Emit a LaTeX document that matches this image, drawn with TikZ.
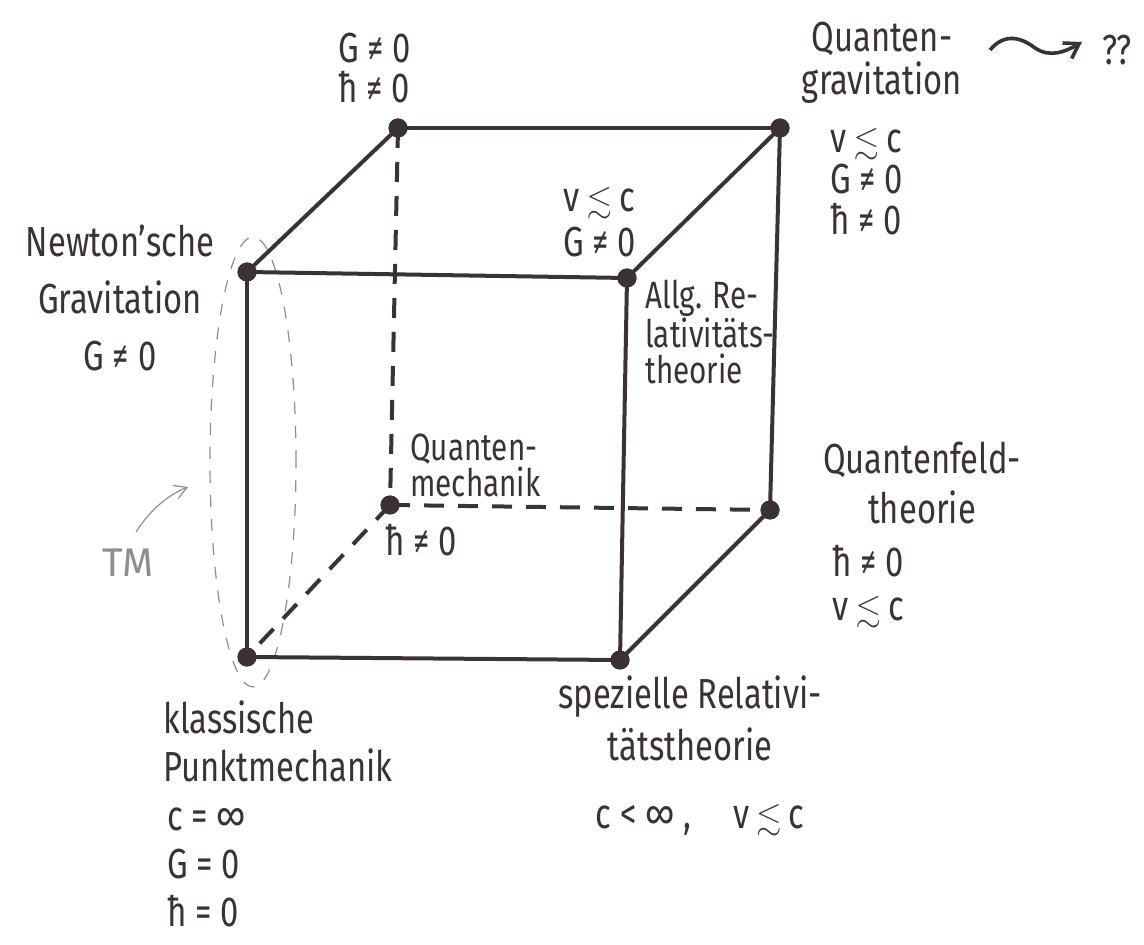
\documentclass[tikz,border=0pt]{standalone}
\usepackage{fontspec}
\usepackage{amssymb}
\setmainfont{Fira Sans}[FakeStretch=0.78]
\usetikzlibrary{arrows.meta,shapes.geometric}
\definecolor{ink}{HTML}{3A3236}
\definecolor{pencil}{HTML}{8E8E8E}
\newcommand{\lsim}{\scalebox{0.78}{$\lesssim$}}
\begin{document}
\begin{tikzpicture}[x=0.5pt,y=-0.5pt,
  edge/.style={draw=ink,line width=2pt},
  hidden/.style={draw=ink,line width=2pt,dash pattern=on 10pt off 7pt},
  vertex/.style={circle,fill=ink,inner sep=0pt,minimum size=9.5pt},
  lab/.style={text=ink,font=\fontsize{21}{24}\selectfont,inner sep=0pt},
  pencilline/.style={draw=pencil,line width=0.6pt},
]
\useasboundingbox (0,0) rectangle (1144,945);
\fill[white] (0,0) rectangle (1144,945);

% TM marking (pencil)
\node[draw=pencil,line width=0.6pt,dash pattern=on 6pt off 6pt,ellipse,minimum width=43pt,minimum height=225pt,inner sep=0pt] (tmring) at (253,462) {};
\node[text=pencil,font=\fontsize{20}{24}\selectfont\addfontfeature{FakeStretch=1.0},inner sep=0pt] (tm) at (128,563) {TM};
\coordinate (tmtip) at (188,487);
\draw[pencilline,-{Straight Barb[length=6pt,width=7pt]}] (136,532) .. controls (150,510) and (168,495) .. (tmtip);

% cube vertices
\node[vertex] (A) at (247,657) {};
\node[vertex] (B) at (620,660) {};
\node[vertex] (C) at (247,272) {};
\node[vertex] (D) at (627,278) {};
\node[vertex] (E) at (390,505) {};
\node[vertex] (F) at (770,510) {};
\node[vertex] (G) at (398,128) {};
\node[vertex] (H) at (780,128) {};

% edges
\draw[edge] (A.center) -- (B.center);
\draw[edge] (A.center) -- (C.center);
\draw[edge] (C.center) -- (D.center);
\draw[edge] (B.center) -- (D.center);
\draw[edge] (C.center) -- (G.center);
\draw[edge] (G.center) -- (H.center);
\draw[edge] (D.center) -- (H.center);
\draw[edge] (H.center) -- (F.center);
\draw[edge] (F.center) -- (B.center);
\draw[hidden] (G.center) -- (E.center);
\draw[hidden] (E.center) -- (F.center);
\draw[hidden] (E.center) -- (A.center);

% redraw dots on top
\foreach \v in {A,B,C,D,E,F,G,H} \fill[ink] (\v) circle (4.75pt);

% labels
\node[lab,align=left,anchor=west,font=\fontsize{21}{20}\selectfont] (lG) at (338,68) {G ≠ 0\\ħ ≠ 0};

\node[lab,align=center,font=\fontsize{21}{21.5}\selectfont] (lHname) at (882,63) {Quanten-\\gravitation};
\node[lab,align=left,anchor=west,font=\fontsize{21}{20.5}\selectfont] (lHcond) at (830,182) {v\,\lsim\,c\\G ≠ 0\\ħ ≠ 0};
\coordinate (wstart) at (990,50);
\coordinate (wend) at (1082,42);
\draw[ink,line width=1.8pt,-{Straight Barb[length=7pt,width=9pt]}] (wstart) .. controls (1005,32) and (1022,38) .. (1035,48) .. controls (1050,58) and (1065,52) .. (wend);
\node[lab] (qq) at (1117,50) {??};

\node[lab,align=left,anchor=west,font=\fontsize{21}{22.5}\selectfont] (lDcond) at (563,222) {v\,\lsim\,c\\G ≠ 0};
\node[lab,align=left,anchor=west,font=\fontsize{19}{18}\selectfont] (lDname) at (645,332) {Allg. Re-\\lativitäts-\\theorie};

\node[lab,align=center,font=\fontsize{21}{28.5}\selectfont] (lC) at (120,298) {Newton'sche\\Gravitation\\G ≠ 0};

\node[lab,align=left,anchor=west,font=\fontsize{19}{18}\selectfont] (lEname) at (410,465) {Quanten-\\mechanik};
\node[lab,anchor=west] (lEcond) at (385,540) {ħ ≠ 0};

\node[lab,align=center,font=\fontsize{21}{25}\selectfont] (lFname) at (922,483) {Quantenfeld-\\theorie};
\node[lab,anchor=west] (lFcond1) at (832,561) {ħ ≠ 0};
\node[lab,anchor=west] (lFcond2) at (832,612) {v\,\lsim\,c};

\node[lab,align=left,anchor=west,font=\fontsize{21}{24}\selectfont] (lAname) at (163,741) {klassische\\Punktmechanik};
\node[lab,align=left,anchor=west,font=\fontsize{21}{24}\selectfont] (lAcond) at (167,867) {c = ∞\\G = 0\\ħ = 0};

\node[lab,align=center,font=\fontsize{21}{26}\selectfont] (lBname) at (690,718) {spezielle Relativi-\\tätstheorie};
\node[lab] (lBcond) at (700,820) {c < ∞ ,\quad v\,\lsim\,c};
\end{tikzpicture}
\end{document}
